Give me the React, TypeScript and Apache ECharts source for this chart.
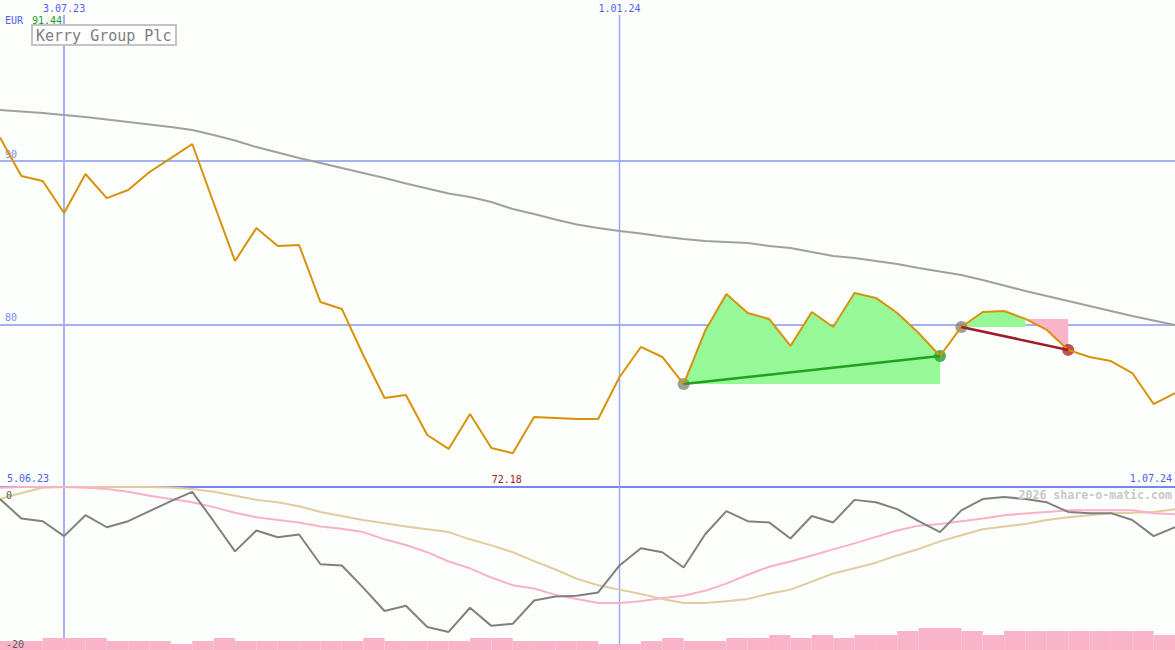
import { useEffect, useRef } from 'react';
import * as echarts from 'echarts';

// weekly closes, 12.06.23 .. 1.07.24
const dates = [
  '2023-06-12', '2023-06-19', '2023-06-26', '2023-07-03', '2023-07-10', '2023-07-17', '2023-07-24', '2023-07-31',
  '2023-08-07', '2023-08-14', '2023-08-21', '2023-08-28', '2023-09-04', '2023-09-11', '2023-09-18', '2023-09-25',
  '2023-10-02', '2023-10-09', '2023-10-16', '2023-10-23', '2023-10-30', '2023-11-06', '2023-11-13', '2023-11-20',
  '2023-11-27', '2023-12-04', '2023-12-11', '2023-12-18', '2023-12-25', '2024-01-01', '2024-01-08', '2024-01-15',
  '2024-01-22', '2024-01-29', '2024-02-05', '2024-02-12', '2024-02-19', '2024-02-26', '2024-03-04', '2024-03-11',
  '2024-03-18', '2024-03-25', '2024-04-01', '2024-04-08', '2024-04-15', '2024-04-22', '2024-04-29', '2024-05-06',
  '2024-05-13', '2024-05-20', '2024-05-27', '2024-06-03', '2024-06-10', '2024-06-17', '2024-06-24', '2024-07-01',
];

const price = [
  91.44, 89.09, 88.78, 86.83, 89.21, 87.74, 88.23, 89.33, 90.18, 91.04,
  87.44, 83.9, 85.91, 84.82, 84.88, 81.4, 80.98, 78.17, 75.55, 75.73,
  73.29, 72.44, 74.57, 72.5, 72.18, 74.39, 74.33, 74.27, 74.27, 76.83,
  78.66, 78.05, 76.4, 79.63, 81.89, 80.73, 80.37, 78.72, 80.79, 79.88,
  81.95, 81.65, 80.73, 79.51, 78.11, 79.88, 80.79, 80.85, 80.37, 79.7,
  78.48, 78.05, 77.8, 77.07, 75.18, 75.85,
];

// long moving average (grey)
const priceAvg = [
  93.11, 93.02, 92.93, 92.8, 92.68, 92.53, 92.38, 92.23, 92.07, 91.89,
  91.59, 91.25, 90.85, 90.52, 90.18, 89.88, 89.57, 89.27, 88.96, 88.63,
  88.32, 88.02, 87.8, 87.5, 87.07, 86.77, 86.43, 86.13, 85.91, 85.73,
  85.58, 85.4, 85.24, 85.12, 85.06, 85.0, 84.82, 84.7, 84.45, 84.21,
  84.09, 83.9, 83.72, 83.48, 83.26, 83.05, 82.74, 82.41, 82.07, 81.77,
  81.46, 81.16, 80.85, 80.55, 80.27, 80.0,
];

// lower pane
const momentum = [
  -1.5, -3.9, -4.25, -6.1, -3.5, -5.0, -4.25, -3.0, -1.75, -0.6,
  -4.25, -8.0, -5.4, -6.25, -5.9, -9.6, -9.75, -12.5, -15.4, -14.75,
  -17.4, -18.0, -15.0, -17.25, -17.0, -14.1, -13.6, -13.5, -13.1, -9.75,
  -7.6, -8.1, -10.0, -5.9, -3.0, -4.25, -4.4, -6.4, -3.6, -4.4,
  -1.6, -1.9, -2.75, -4.25, -5.6, -2.9, -1.5, -1.25, -1.5, -1.9,
  -3.1, -3.25, -3.25, -4.1, -6.1, -5.0,
];
const fastAvg = [
  -0.1, 0, 0, 0, -0.1, -0.25, -0.6, -1.1, -1.5, -1.9,
  -2.5, -3.2, -3.75, -4.1, -4.4, -4.9, -5.2, -5.6, -6.5, -7.2,
  -8.1, -9.25, -10.1, -11.25, -12.2, -12.6, -13.4, -13.9, -14.4, -14.4,
  -14.2, -13.8, -13.5, -12.9, -12.0, -10.9, -9.9, -9.25, -8.5, -7.75,
  -7.0, -6.2, -5.4, -4.8, -4.6, -4.25, -3.9, -3.5, -3.3, -3.1,
  -2.9, -2.9, -2.9, -2.9, -3.25, -3.4,
];
const slowAvg = [
  -1.5, -0.75, -0.1, 0, 0, 0, 0, 0, -0.05, -0.25,
  -0.6, -1.1, -1.6, -1.9, -2.4, -3.1, -3.6, -4.1, -4.5, -4.9,
  -5.25, -5.6, -6.5, -7.25, -8.1, -9.2, -10.25, -11.4, -12.2, -12.75,
  -13.3, -13.9, -14.4, -14.4, -14.2, -13.9, -13.25, -12.75, -11.75, -10.75,
  -10.1, -9.4, -8.5, -7.7, -6.75, -6.0, -5.25, -4.9, -4.6, -4.1,
  -3.75, -3.5, -3.25, -3.2, -3.1, -2.75,
];
// one bar per week interval
const volume = [
  9, 9, 12, 12, 12, 9, 9, 9, 6, 9, 12, 9, 9, 9, 9, 9, 9, 12, 9, 9,
  9, 9, 12, 12, 9, 9, 9, 9, 6, 6, 9, 12, 9, 9, 12, 12, 15, 12, 15, 12,
  15, 15, 19, 22, 22, 19, 15, 19, 19, 19, 19, 19, 19, 19, 15,
];

const gridLevels = [90, 80];
const dateMarks = ['2023-07-03', '2024-01-01'];
const dateMarkLabels = ['3.07.23', '1.01.24'];
const trades = [
  { from: 32, to: 44 },
  { from: 45, to: 50 },
];
const fillZones = [
  { from: 32, to: 44, gain: true },
  { from: 45, to: 48, gain: true },
  { from: 48, to: 50, gain: false },
];

const MONO = '"DejaVu Sans Mono", monospace';
const BLUE = '#4d5ef0';
const GRID_BLUE = '#a4b0f2';
const PRICE_MIN = 70.12;
const PRICE_MAX = 99.82;

export default function App() {
  const chartRef = useRef<HTMLDivElement>(null);

  useEffect(() => {
    if (!chartRef.current) return;
    const chart = echarts.init(chartRef.current, null, { renderer: 'svg' });

    const ts = dates.map((d) => echarts.time.parse(d).getTime());
    const pts = (arr: number[]) => arr.map((v, i) => [ts[i], v]);
    const lowIdx = price.indexOf(Math.min(...price));
    const high = Math.max(...price);
    // first mark is a month line (2px), the year line is thin
    const markWidth = (k: number) => (k === 0 ? 2 : 1.4);
    const markColor = (k: number) => (k === 0 ? GRID_BLUE : '#97a5f2');

    const timeAxis = (gridIndex: number) => ({
      type: 'time' as const,
      gridIndex,
      min: ts[0],
      max: ts[ts.length - 1],
      show: false,
    });

    const option = {
      animation: false,
      backgroundColor: '#fcfefc',
      title: {
        text: 'Kerry Group Plc',
        left: 32,
        top: 25,
        padding: [3, 5, 2, 4],
        borderColor: '#c4c4c4',
        borderWidth: 2,
        backgroundColor: '#ffffff',
        textStyle: { color: '#7c7c7c', fontFamily: MONO, fontSize: 15, fontWeight: 'normal' },
      },
      grid: [
        { left: 0, right: 0, top: 0, height: 487 },
        { left: 0, right: 0, top: 487, height: 161 },
        { left: 0, right: 0, top: 487, height: 163 },
      ],
      xAxis: [
        timeAxis(0),
        {
          ...timeAxis(1),
          show: true,
          position: 'top',
          axisLine: { show: true, lineStyle: { color: '#7586f2', width: 2 } },
          axisTick: { show: false },
          axisLabel: { show: false },
          splitLine: { show: false },
        },
        timeAxis(2),
      ],
      yAxis: [
        { type: 'value', gridIndex: 0, min: PRICE_MIN, max: PRICE_MAX, show: false },
        {
          type: 'value',
          gridIndex: 1,
          min: -20,
          max: 0,
          interval: 20,
          z: 10,
          axisLine: { show: false },
          axisTick: { show: false },
          splitLine: { show: false },
          axisLabel: {
            inside: true,
            margin: 6,
            color: '#5a5a5a',
            fontFamily: MONO,
            fontSize: 10,
            formatter: (v: number) => (v === 0 ? '{t|0}' : '{b|' + v + '}'),
            rich: { t: { padding: [16, 0, 0, 0] }, b: { padding: [0, 0, 8, 0] } },
          },
        },
        { type: 'value', gridIndex: 2, min: 0, max: 163, show: false },
      ],
      graphic: [
        { type: 'text', left: 5, top: 15, style: { text: 'EUR', fill: BLUE, font: `10px ${MONO}` } },
        { type: 'text', left: 32, top: 15, style: { text: high.toFixed(2), fill: '#1ea01e', font: `10px ${MONO}` } },
        { type: 'text', left: 7, top: 473, style: { text: '5.06.23', fill: BLUE, font: `10px ${MONO}` } },
        { type: 'text', right: 3, top: 473, style: { text: '1.07.24', fill: BLUE, font: `10px ${MONO}` } },
        {
          type: 'text',
          right: 3,
          top: 489,
          z: 10,
          style: { text: '2026 share-o-matic.com', fill: '#c8c8c8', font: `bold 11.6px ${MONO}` },
        },
      ],
      series: [
        {
          name: 'zones',
          type: 'custom' as const,
          xAxisIndex: 0,
          yAxisIndex: 0,
          silent: true,
          encode: { x: 0, y: 1 },
          data: fillZones.map((z) => [ts[z.from], price[z.from]]),
          renderItem: (params: any, api: any) => {
            const z = fillZones[params.dataIndex];
            const base = price[z.from];
            const poly: number[][] = [];
            for (let i = z.from; i <= z.to; i++) poly.push(api.coord([ts[i], price[i]]));
            poly.push(api.coord([ts[z.to], base]));
            poly.push(api.coord([ts[z.from], base]));
            return {
              type: 'polygon',
              shape: { points: poly },
              style: { fill: z.gain ? '#96f896' : '#f9b4c9' },
            };
          },
        },
        {
          name: 'avg',
          type: 'line' as const,
          xAxisIndex: 0,
          yAxisIndex: 0,
          data: pts(priceAvg),
          symbol: 'none',
          lineStyle: { color: '#a0a0a0', width: 2 },
          markLine: {
            z: 1,
            silent: true,
            symbol: 'none',
            lineStyle: { color: GRID_BLUE, width: 2, type: 'solid' },
            label: {
              position: 'insideStartTop',
              formatter: '{c}',
              color: '#7c8cf2',
              fontFamily: MONO,
              fontSize: 10,
              distance: [5, 2],
            },
            data: gridLevels.map((v) => ({ yAxis: v })),
          },
        },
        {
          name: 'price',
          type: 'line' as const,
          xAxisIndex: 0,
          yAxisIndex: 0,
          data: pts(price),
          symbol: 'none',
          lineStyle: { color: '#d8920a', width: 2 },
          markLine: {
            z: 1,
            silent: true,
            symbol: 'none',
            label: {
              position: 'start',
              formatter: '{b}',
              color: BLUE,
              fontFamily: MONO,
              fontSize: 10,
              distance: 2,
            },
            data: dateMarks.map((d, k) => [
              {
                name: dateMarkLabels[k],
                coord: [echarts.time.parse(d).getTime(), 98.9],
                lineStyle: { color: markColor(k), width: markWidth(k), type: 'solid' },
              },
              { coord: [echarts.time.parse(d).getTime(), PRICE_MIN] },
            ]),
          },
          markPoint: {
            symbol: 'circle',
            symbolSize: 1,
            silent: true,
            itemStyle: { color: 'rgba(0,0,0,0)' },
            label: {
              show: true,
              position: 'top',
              distance: 1,
              offset: [-6, 0],
              color: '#a01c28',
              fontFamily: MONO,
              fontSize: 10,
              formatter: price[lowIdx].toFixed(2),
            },
            data: [{ coord: [ts[lowIdx], PRICE_MIN + 0.05] }],
          },
        },
        ...trades.map((t) => ({
          type: 'line' as const,
          xAxisIndex: 0,
          yAxisIndex: 0,
          data: [
            [ts[t.from], price[t.from]],
            [ts[t.to], price[t.to]],
          ],
          symbol: 'none',
          lineStyle: { color: price[t.to] > price[t.from] ? '#22a022' : '#a01c28', width: 2.5 },
        })),
        {
          type: 'scatter' as const,
          xAxisIndex: 0,
          yAxisIndex: 0,
          symbolSize: 12,
          data: trades.flatMap((t) => [
            { value: [ts[t.from], price[t.from]], itemStyle: { color: '#868686' } },
            {
              value: [ts[t.to], price[t.to]],
              itemStyle: { color: price[t.to] > price[t.from] ? '#28a028' : '#b02828' },
            },
          ]),
        },
        {
          name: 'momentum',
          type: 'line' as const,
          xAxisIndex: 1,
          yAxisIndex: 1,
          data: pts(momentum),
          symbol: 'none',
          lineStyle: { color: '#808080', width: 2 },
          z: 4,
          markLine: {
            z: 1,
            silent: true,
            symbol: 'none',
            label: { show: false },
            data: dateMarks.map((d, k) => ({
              xAxis: echarts.time.parse(d).getTime(),
              lineStyle: { color: markColor(k), width: markWidth(k), type: 'solid' },
            })),
          },
        },
        {
          name: 'slow',
          type: 'line' as const,
          xAxisIndex: 1,
          yAxisIndex: 1,
          data: pts(slowAvg),
          symbol: 'none',
          lineStyle: { color: '#e2cc9e', width: 2 },
        },
        {
          name: 'fast',
          type: 'line' as const,
          xAxisIndex: 1,
          yAxisIndex: 1,
          data: pts(fastAvg),
          symbol: 'none',
          lineStyle: { color: '#f8b2c8', width: 2 },
        },
        {
          name: 'volume',
          type: 'custom' as const,
          xAxisIndex: 2,
          yAxisIndex: 2,
          silent: true,
          z: 3,
          encode: { x: 0, y: 1 },
          data: volume.map((v, i) => [ts[i], v]),
          renderItem: (params: any, api: any) => {
            const i = params.dataIndex;
            const a = api.coord([ts[i], volume[i]]);
            const b = api.coord([ts[i + 1], 0]);
            return {
              type: 'rect',
              shape: { x: a[0], y: a[1], width: b[0] - a[0], height: b[1] - a[1] },
              style: { fill: '#f9b4c9' },
            };
          },
        },
      ],
    };

    chart.setOption(option as any);
    return () => chart.dispose();
  }, []);

  return <div ref={chartRef} style={{ position: 'fixed', left: 0, top: 0, width: 1175, height: 650 }} />;
}
